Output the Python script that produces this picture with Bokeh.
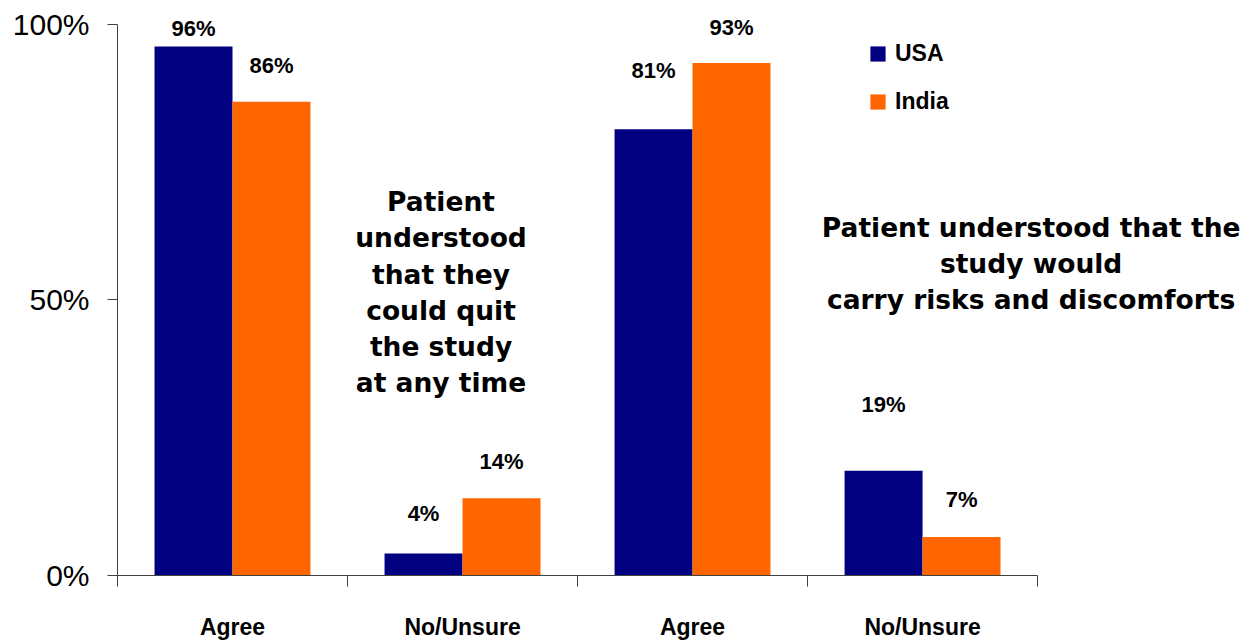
from bokeh.plotting import figure
from bokeh.models import Range1d, FixedTicker, Legend, LegendItem, Label, ColumnDataSource
from bokeh.embed import file_html
from bokeh.resources import INLINE

# ---- data ----
categories = ["Agree", "No/Unsure", "Agree", "No/Unsure"]
series = ["USA", "India"]
usa = [96, 4, 81, 19]
india = [86, 14, 93, 7]
y_ticks = [0, 50, 100]
y_tick_labels = ["0%", "50%", "100%"]
notes = [
    "Patient\nunderstood\nthat they\ncould quit\nthe study\nat any time",
    "Patient understood that the\nstudy would\ncarry risks and discomforts",
]

# ---- styling / placement ----
colors = ["#000080", "#FF6600"]
usa_label_gap = [18, 40, 59, 66]      # px above bar top
india_label_gap = [36, 37, 36, 37]
bar_w = 0.339
dodge = 0.1695
FONT = "Liberation Sans"

centers = [i + 0.5 for i in range(len(categories))]
usa_x = [c - dodge for c in centers]
india_x = [c + dodge for c in centers]

# frame: 5.51 px per percent; 14 px of headroom above 100% so top labels are not clipped
p = figure(frame_width=1128, frame_height=565, x_range=Range1d(0, 4.904), y_range=Range1d(0, 102.54),
           output_backend="svg", toolbar_location=None,
           min_border_left=117, min_border_top=10, min_border_right=0, min_border_bottom=0)
p.outline_line_color = None
p.xgrid.visible = False
p.ygrid.visible = False
p.background_fill_color = "white"
p.border_fill_color = "white"

src_usa = ColumnDataSource(dict(x=usa_x, top=usa, lab=[f"{v}%" for v in usa],
                                off=[-g for g in usa_label_gap]))
src_ind = ColumnDataSource(dict(x=india_x, top=india, lab=[f"{v}%" for v in india],
                                off=[-g for g in india_label_gap]))

r_usa = p.vbar(x="x", top="top", width=bar_w, source=src_usa, fill_color=colors[0], line_color=None)
r_ind = p.vbar(x="x", top="top", width=bar_w, source=src_ind, fill_color=colors[1], line_color=None)

for src in (src_usa, src_ind):
    p.text(x="x", y="top", text="lab", y_offset="off", source=src,
           text_align="center", text_baseline="middle",
           text_font={"value": FONT}, text_font_style="bold", text_font_size="22px",
           text_color="black")

# y axis
ya = p.yaxis[0]
ya.ticker = FixedTicker(ticks=y_ticks, minor_ticks=[])
ya.major_label_overrides = {t: l for t, l in zip(y_ticks, y_tick_labels)}
ya.bounds = (0, 100)
ya.major_tick_out = 10
ya.major_tick_in = 0
ya.minor_tick_line_color = None
ya.axis_line_color = "#404040"
ya.major_tick_line_color = "#404040"
ya.major_label_text_font = FONT
ya.major_label_text_font_size = "30px"
ya.major_label_text_color = "black"
ya.major_label_standoff = 18

# x axis
xa = p.xaxis[0]
xa.ticker = FixedTicker(ticks=centers, minor_ticks=list(range(len(categories) + 1)))
xa.major_label_overrides = {c: l for c, l in zip(centers, categories)}
xa.bounds = (0, len(categories))
xa.major_tick_line_color = None
xa.major_tick_out = 0
xa.major_tick_in = 0
xa.minor_tick_out = 11
xa.minor_tick_in = 0
xa.minor_tick_line_color = "#404040"
xa.axis_line_color = "#404040"
xa.major_label_text_font = FONT
xa.major_label_text_font_style = "bold"
xa.major_label_text_font_size = "23px"
xa.major_label_text_color = "black"
xa.major_label_standoff = 27

# annotations
p.add_layout(Label(x=1.4065, y=51.4, text=notes[0], text_align="center", text_baseline="middle",
                   text_font="DejaVu Sans", text_font_style="bold", text_font_size="26.5px",
                   text_line_height=1.17, text_color="black"))
p.add_layout(Label(x=3.972, y=56.6, text=notes[1], text_align="center", text_baseline="middle",
                   text_font="DejaVu Sans", text_font_style="bold", text_font_size="26.5px",
                   text_line_height=1.17, text_color="black"))

legend = Legend(items=[LegendItem(label=series[0], renderers=[r_usa]),
                       LegendItem(label=series[1], renderers=[r_ind])],
                location=(751, 460), orientation="vertical",
                glyph_width=19, glyph_height=19, label_height=19, label_standoff=8,
                spacing=21, padding=0, margin=0,
                border_line_color=None, background_fill_alpha=0,
                label_text_font=FONT, label_text_font_style="bold",
                label_text_font_size="23px", label_text_color="black")
p.add_layout(legend)

open("out.html", "w").write(file_html(p, INLINE))
